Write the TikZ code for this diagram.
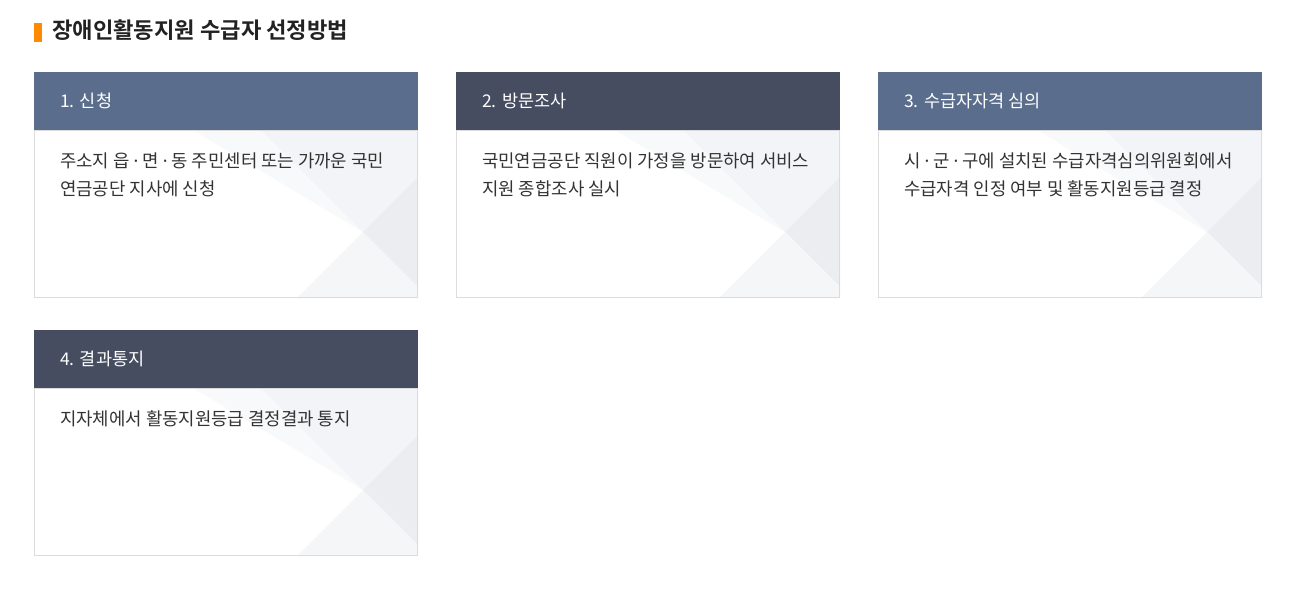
\documentclass[tikz,border=0pt]{standalone}
\usepackage{fontspec}
\setmainfont{Noto Sans CJK KR}
\newfontfamily\krbold{Noto Sans CJK KR Bold}
\newfontfamily\latinsans{Noto Sans}
\newcommand{\mdot}{{\latinsans ·}}
\definecolor{hdrA}{HTML}{5A6D8C}
\definecolor{hdrB}{HTML}{474D61}
\definecolor{orangebar}{HTML}{FF8A00}
\definecolor{titletxt}{HTML}{222222}
\definecolor{bodytxt}{HTML}{333333}
\definecolor{cardline}{HTML}{DCDCDC}
\definecolor{decoA}{HTML}{F8F9FA}
\definecolor{decoB}{HTML}{F3F4F7}
\definecolor{decoC}{HTML}{EBEDF1}
\definecolor{decoD}{HTML}{F5F6F8}
\tikzset{
  hdrtext/.style={anchor=base west, inner sep=0pt, text=white, font=\fontsize{17.5}{20}\selectfont},
  bodytext/.style={anchor=base west, inner sep=0pt, text=bodytxt, font=\fontsize{17.8}{20}\selectfont},
}
% #1 = left x, #2 = top y of header, #3 = header colour
\newcommand{\cardbox}[3]{%
  \fill[white] (#1,#2+58) rectangle (#1+384,#2+226);
  \fill[decoA] (#1+159,#2+58) -- (#1+329,#2+160) -- (#1+227,#2+58) -- cycle;
  \fill[decoB] (#1+227,#2+58) -- (#1+329,#2+160) -- (#1+384,#2+105) -- (#1+384,#2+58) -- cycle;
  \fill[decoC] (#1+384,#2+105) -- (#1+329,#2+160) -- (#1+384,#2+215) -- cycle;
  \fill[decoD] (#1+329,#2+160) -- (#1+384,#2+215) -- (#1+384,#2+226) -- (#1+263,#2+226) -- cycle;
  \draw[cardline, line width=1pt] (#1+0.5,#2+58) rectangle (#1+383.5,#2+225.5);
  \fill[#3] (#1,#2) rectangle (#1+384,#2+58);
}
\begin{document}
\begin{tikzpicture}[x=1pt, y=-1pt]
\useasboundingbox (0,0) rectangle (1313,590);
\fill[white] (0,0) rectangle (1313,590);
% title
\fill[orangebar] (34,23) rectangle (42,42);
\node[anchor=base west, inner sep=0pt, text=titletxt, font=\krbold\fontsize{22.2}{24}\selectfont] (title) at (52,38.5) {장애인활동지원 수급자 선정방법};
% cards
\cardbox{34}{72}{hdrA}
\cardbox{456}{72}{hdrB}
\cardbox{878}{72}{hdrA}
\cardbox{34}{330}{hdrB}
% headers
\node[hdrtext] (h1) at (60,107.5) {1. 신청};
\node[hdrtext] (h2) at (482,107.5) {2. 방문조사};
\node[hdrtext] (h3) at (904,107.5) {3. 수급자자격 심의};
\node[hdrtext] (h4) at (60,365.5) {4. 결과통지};
% bodies
\node[bodytext] (b1a) at (60,167.5) {주소지 읍 \mdot{} 면 \mdot{} 동 주민센터 또는 가까운 국민};
\node[bodytext] (b1b) at (60,195.5) {연금공단 지사에 신청};
\node[bodytext] (b2a) at (482,167.5) {국민연금공단 직원이 가정을 방문하여 서비스};
\node[bodytext] (b2b) at (482,195.5) {지원 종합조사 실시};
\node[bodytext] (b3a) at (904,167.5) {시 \mdot{} 군 \mdot{} 구에 설치된 수급자격심의위원회에서};
\node[bodytext] (b3b) at (904,195.5) {수급자격 인정 여부 및 활동지원등급 결정};
\node[bodytext] (b4a) at (60,425.5) {지자체에서 활동지원등급 결정결과 통지};
\end{tikzpicture}
\end{document}
